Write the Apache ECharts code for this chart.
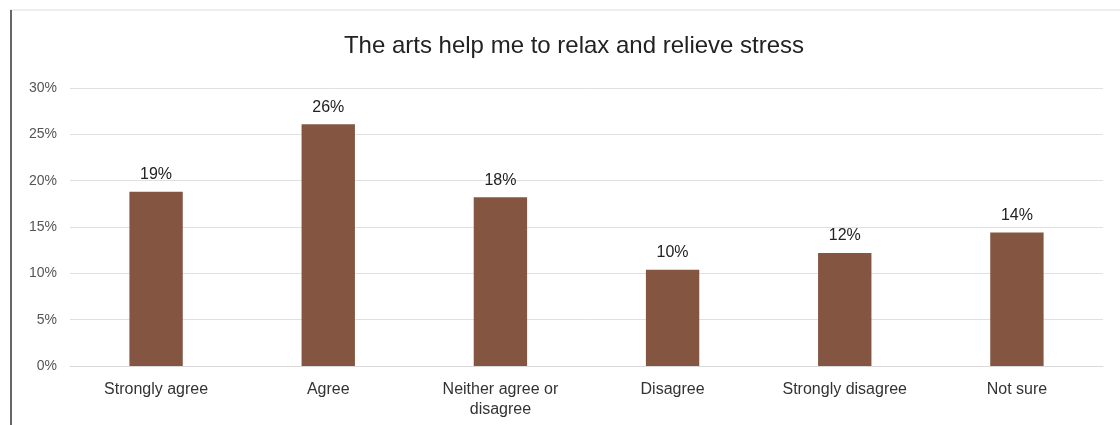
<!DOCTYPE html>
<html>
<head>
<meta charset="utf-8">
<script src="https://cdn.jsdelivr.net/npm/echarts@6/dist/echarts.min.js"></script>
<style>
  html, body { margin: 0; padding: 0; background: #fff; }
  #chart { width: 1120px; height: 425px; }
</style>
</head>
<body>
<div id="chart"></div>
<script>
const categories = ['Strongly agree', 'Agree', 'Neither agree or\ndisagree', 'Disagree', 'Strongly disagree', 'Not sure']
const values = [18.8, 26.1, 18.2, 10.4, 12.2, 14.4]
const yTicks = [0, 5, 10, 15, 20, 25, 30]

const chart = echarts.init(document.getElementById('chart'))

const option = {
  animation: false,
  textStyle: { fontFamily: 'Liberation Sans, Arial, sans-serif' },
  title: {
    text: 'The arts help me to relax and relieve stress',
    left: 569,
    top: 29,
    textAlign: 'center',
    textStyle: { fontSize: 24, fontWeight: 'normal', color: '#222' }
  },
  graphic: [
    // frame lines from the cropped screenshot
    { type: 'line', shape: { x1: 10, y1: 10, x2: 1120, y2: 10 }, style: { stroke: '#dcdcdc', lineWidth: 1 } },
    { type: 'line', shape: { x1: 11, y1: 10, x2: 11, y2: 425 }, style: { stroke: '#666', lineWidth: 2 } }
  ],
  grid: { left: 70, right: 17, top: 88, bottom: 59 },
  xAxis: {
    type: 'category',
    data: categories,
    axisLine: { lineStyle: { color: '#d9d9d9' } },
    axisTick: { show: false },
    axisLabel: { color: '#333', fontSize: 16, margin: 14, lineHeight: 20, interval: 0 }
  },
  yAxis: {
    type: 'value',
    min: yTicks[0],
    max: yTicks[yTicks.length - 1],
    interval: 5,
    axisLine: { show: false },
    axisTick: { show: false },
    axisLabel: { color: '#555', fontSize: 14, margin: 13, formatter: '{value}%' },
    splitLine: { lineStyle: { color: '#e0e0e0' } }
  },
  series: [{
    type: 'bar',
    data: values,
    barWidth: '31%',
    itemStyle: { color: '#845642' },
    label: {
      show: true,
      position: 'top',
      distance: 9,
      color: '#222',
      fontSize: 16,
      formatter: p => Math.round(p.value) + '%'
    }
  }]
}

chart.setOption(option)
</script>
</body>
</html>
